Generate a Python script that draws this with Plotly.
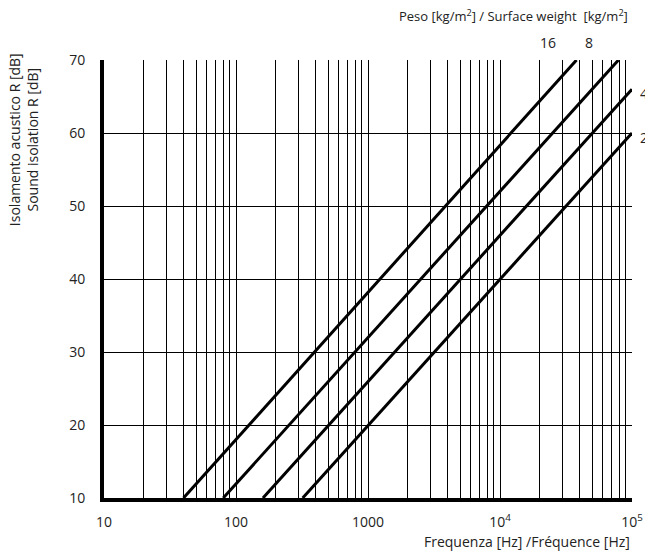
import math
import plotly.graph_objects as go

# Surface weight lines (kg/m2): start/end points
masses = [16, 8, 4, 2]
freq_start = [40, 80, 160, 320]
freq_end = [38000, 79000, 100000, 100000]
r_start = [10, 10, 10, 10]
r_end = [70, 70, 66, 60]

x_grid = [m * 10**e for e in range(1, 5) for m in range(1, 10)] + [100000]
x_labels = {10: "10", 100: "100", 1000: "1000", 10000: "10<sup>4</sup>", 100000: "10<sup>5</sup>"}
y_ticks = [10, 20, 30, 40, 50, 60, 70]

FONT = "'Open Sans', sans-serif"
TXT = "#222"

fig = go.Figure()
for m, f0, f1, r0, r1 in zip(masses, freq_start, freq_end, r_start, r_end):
    fig.add_trace(go.Scatter(x=[f0, f1], y=[r0, r1], mode="lines",
                             line=dict(color="black", width=3), showlegend=False,
                             hoverinfo="skip", cliponaxis=False))
    if r1 >= 70:
        fig.add_annotation(x=math.log10(f1), y=70, xref="x", yref="y", text=str(m),
                           showarrow=False, yshift=18, xshift=-29,
                           font=dict(size=14, color=TXT, family=FONT))
    else:
        fig.add_annotation(x=math.log10(f1), y=r1, xref="x", yref="y", text=str(m),
                           showarrow=False, xanchor="left", xshift=6, yshift=-4,
                           font=dict(size=14, color=TXT, family=FONT))

fig.update_xaxes(type="log", range=[1, 5], tickvals=x_grid,
                 ticktext=[x_labels.get(v, "") for v in x_grid],
                 showgrid=True, gridcolor="black", gridwidth=1.3,
                 showline=True, linecolor="black", linewidth=4,
                 ticks="", ticklabelstandoff=8, automargin=False,
                 tickfont=dict(size=14, color=TXT, family=FONT),
                 zeroline=False)
fig.update_yaxes(range=[10, 70], tickvals=y_ticks,
                 showgrid=True, gridcolor="black", gridwidth=1.3,
                 showline=True, linecolor="black", linewidth=4,
                 ticks="", ticklabelstandoff=12, automargin=False,
                 tickfont=dict(size=14, color=TXT, family=FONT),
                 zeroline=False)

fig.add_annotation(x=1, y=1, xref="paper", yref="paper", xanchor="right", yanchor="middle",
                   text="Peso [kg/m<sup>2</sup>] / Surface weight  [kg/m<sup>2</sup>]",
                   showarrow=False, yshift=45, xshift=-2,
                   font=dict(size=13, color=TXT, family=FONT))
fig.add_annotation(x=1, y=0, xref="paper", yref="paper", xanchor="right", yanchor="middle",
                   text="Frequenza [Hz] /Fréquence [Hz]",
                   showarrow=False, yshift=-43, font=dict(size=14, color=TXT, family=FONT))
fig.add_annotation(x=0, y=0.817, xref="paper", yref="paper", textangle=-90,
                   xanchor="center", yanchor="middle",
                   text="Isolamento acustico R [dB]<br>Sound isolation R [dB]",
                   showarrow=False, xshift=-81, font=dict(size=14, color=TXT, family=FONT))

fig.update_layout(width=645, height=553, margin=dict(l=104, r=13, t=60, b=55),
                  plot_bgcolor="white", paper_bgcolor="white")
fig.write_html("out.html", config={"displayModeBar": False},
               post_script="document.body.style.margin='0';document.body.style.overflow='hidden';")
